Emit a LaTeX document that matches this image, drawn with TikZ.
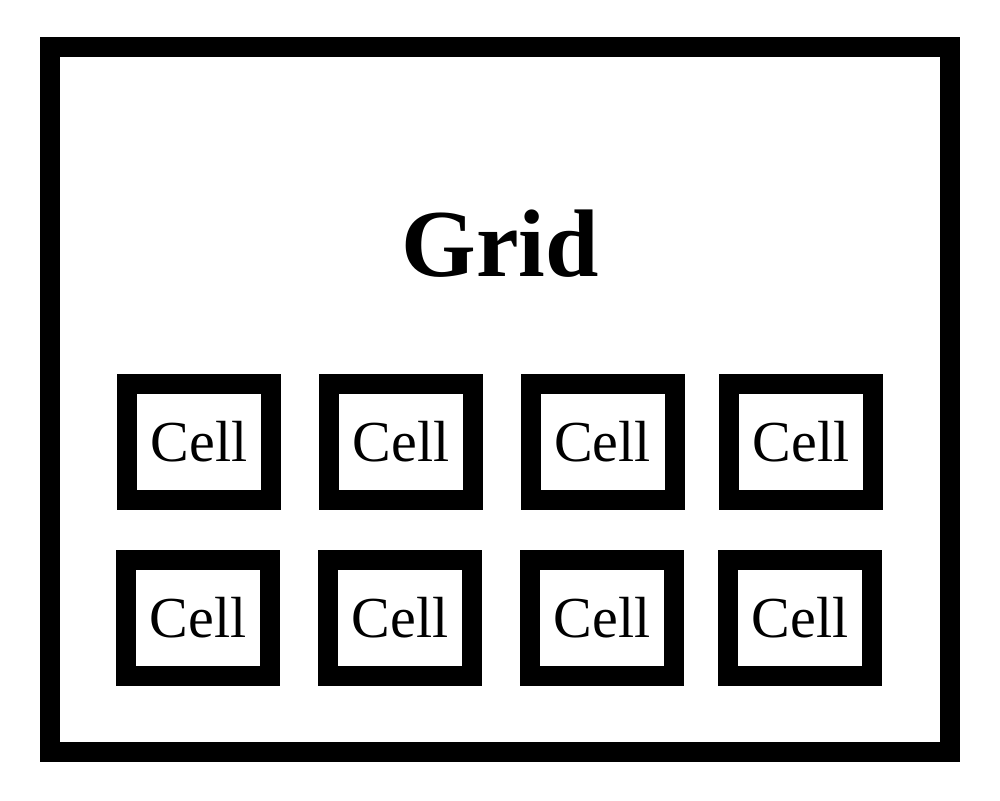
\documentclass[tikz,border=0pt]{standalone}
\usepackage{fontspec}
\setmainfont{Liberation Serif}
\begin{document}
\begin{tikzpicture}[x=1pt,y=-1pt,
  frame/.style={draw=black,line width=20pt,rectangle,inner sep=0pt,fill=white},
  cellbox/.style={frame,minimum width=144pt,minimum height=116pt,font=\fontsize{58}{60}\selectfont},
  titletext/.style={font=\fontsize{96}{100}\selectfont\bfseries,anchor=base,inner sep=0pt}]
\useasboundingbox (0,0) rectangle (1000,800);
\node[frame,minimum width=900pt,minimum height=705pt] (grid) at (500,399.5) {};
\node[titletext] (title) at (500,276) {Grid};
\node[cellbox] (c1) at (199,442) {Cell};
\node[cellbox] (c2) at (401,442) {Cell};
\node[cellbox] (c3) at (602.5,442) {Cell};
\node[cellbox] (c4) at (801,442) {Cell};
\node[cellbox] (c5) at (198,618) {Cell};
\node[cellbox] (c6) at (400,618) {Cell};
\node[cellbox] (c7) at (602,618) {Cell};
\node[cellbox] (c8) at (800,618) {Cell};
\end{tikzpicture}
\end{document}
